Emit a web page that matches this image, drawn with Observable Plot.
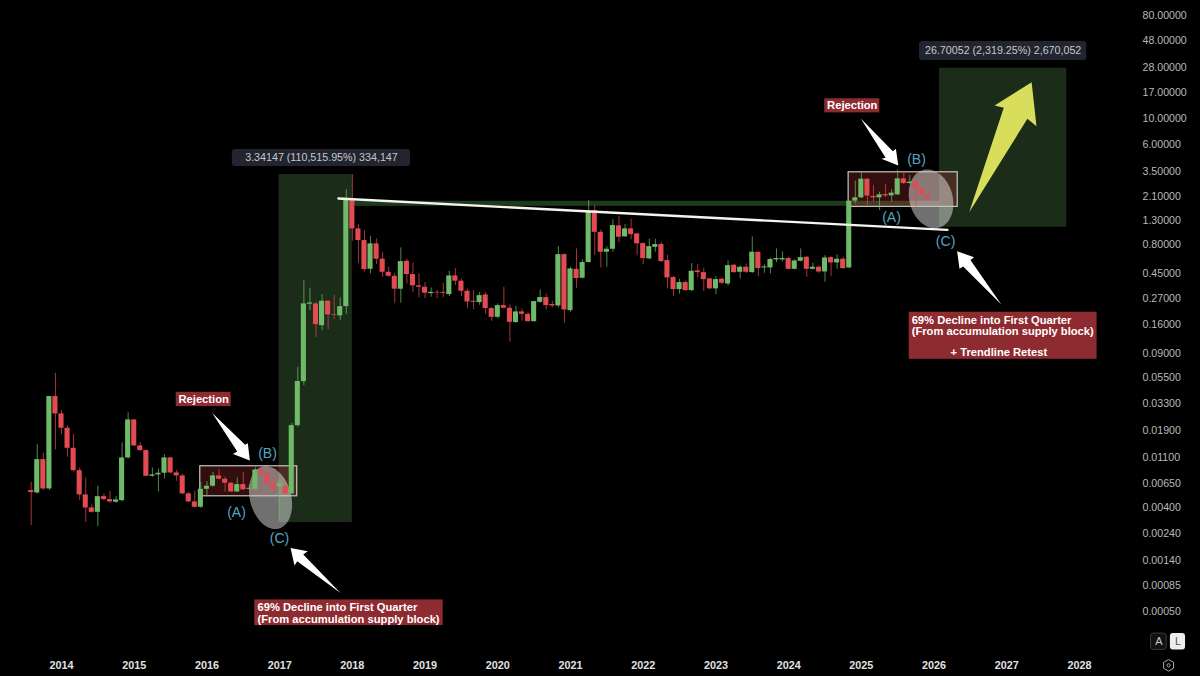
<!DOCTYPE html>
<html><head><meta charset="utf-8">
<script src="https://cdn.jsdelivr.net/npm/d3@7"></script>
<script src="https://cdn.jsdelivr.net/npm/@observablehq/plot@0.6"></script>
<style>html,body{margin:0;padding:0;background:#000}svg{display:block}</style>
</head><body><div id="chart"></div>
<script>
// Months are counted from January 2014; prices are stored as log10 of the price.
const firstMonth = -5;
const openLog10 = [-2.245,-2.266,-1.975,-2.231,-1.424,
-1.576,-1.701,-1.876,-2.071,-2.283,-2.397,-2.435,-2.298,-2.324,-2.347,-2.333,-1.960,
-1.628,-1.855,-1.896,-2.120,-2.108,-2.094,-1.960,-2.091,-2.117,-2.274,-2.344,-2.391,
-2.234,-2.207,-2.117,-2.146,-2.181,-2.257,-2.193,-2.234,-2.234,-2.065,-2.100,-2.181,
-2.210,-2.210,-2.274,-1.678,-1.294,-0.618,-0.615,-0.805,-0.592,-0.709,-0.720,-0.639,
0.293,0.040,-0.062,-0.313,-0.091,-0.225,-0.339,-0.374,-0.487,-0.243,-0.359,-0.458,
-0.470,-0.525,-0.514,-0.514,-0.534,-0.371,-0.417,-0.505,-0.592,-0.604,-0.537,-0.656,
-0.732,-0.630,-0.653,-0.778,-0.685,-0.706,-0.770,-0.601,-0.560,-0.621,-0.633,-0.185,
-0.674,-0.313,-0.391,-0.254,0.200,0.010,-0.164,-0.138,0.066,-0.030,0.040,-0.004,
-0.089,-0.222,-0.121,-0.097,-0.237,-0.385,-0.490,-0.429,-0.499,-0.327,-0.342,-0.397,
-0.484,-0.400,-0.441,-0.278,-0.339,-0.295,-0.342,-0.164,-0.301,-0.301,-0.231,-0.231,
-0.219,-0.313,-0.243,-0.208,-0.313,-0.295,-0.336,-0.211,-0.257,-0.225,-0.301,0.282,
0.311,0.474,0.323,0.311,0.340,0.328,0.337,0.477,0.436,0.448,0.390,0.331];
const closeLog10 = [-2.263,-1.975,-2.231,-1.424,-1.576,
-1.701,-1.876,-2.071,-2.283,-2.397,-2.435,-2.298,-2.324,-2.344,-2.327,-1.960,-1.628,
-1.855,-1.896,-2.120,-2.108,-2.094,-1.960,-2.091,-2.117,-2.274,-2.344,-2.391,-2.234,
-2.207,-2.117,-2.146,-2.181,-2.257,-2.193,-2.239,-2.225,-2.065,-2.100,-2.181,-2.234,
-2.181,-2.274,-1.678,-1.293,-0.615,-0.607,-0.796,-0.592,-0.711,-0.714,-0.639,0.293,
0.040,-0.062,-0.316,-0.091,-0.225,-0.339,-0.374,-0.487,-0.246,-0.359,-0.458,-0.470,
-0.522,-0.514,-0.519,-0.522,-0.371,-0.417,-0.505,-0.598,-0.601,-0.543,-0.656,-0.732,
-0.630,-0.653,-0.776,-0.685,-0.706,-0.770,-0.595,-0.560,-0.630,-0.633,-0.185,-0.668,
-0.310,-0.394,-0.254,0.194,0.010,-0.164,-0.138,0.069,-0.033,0.040,-0.010,-0.091,
-0.219,-0.115,-0.097,-0.246,-0.388,-0.490,-0.429,-0.499,-0.330,-0.342,-0.403,-0.484,
-0.403,-0.435,-0.281,-0.342,-0.295,-0.339,-0.164,-0.307,-0.292,-0.228,-0.219,-0.219,
-0.313,-0.240,-0.211,-0.313,-0.295,-0.336,-0.214,-0.257,-0.225,-0.307,0.281,0.311,
0.474,0.326,0.311,0.337,0.328,0.352,0.477,0.436,0.448,0.392,0.337,0.296];
const highLog10 = [-2.173,-1.844,-1.919,-1.424,-1.221,
-1.547,-1.678,-1.756,-2.047,-2.135,-2.362,-2.207,-2.274,-2.251,-2.298,-1.829,-1.567,
-1.628,-1.826,-1.890,-2.047,-2.056,-1.934,-1.954,-2.071,-2.100,-2.260,-2.251,-2.173,
-2.167,-2.085,-2.059,-2.129,-2.175,-2.135,-2.088,-2.193,-2.047,-2.047,-2.088,-2.129,
-2.158,-2.193,-1.657,-1.168,-0.412,-0.479,-0.601,-0.534,-0.586,-0.540,-0.563,0.383,
0.514,0.077,0.025,-0.027,-0.048,-0.164,-0.295,-0.348,-0.126,-0.225,-0.260,-0.353,
-0.429,-0.476,-0.499,-0.435,-0.330,-0.307,-0.397,-0.487,-0.499,-0.514,-0.516,-0.645,
-0.615,-0.470,-0.624,-0.639,-0.659,-0.694,-0.592,-0.493,-0.528,-0.592,-0.115,-0.179,
-0.295,-0.135,-0.231,0.287,0.243,0.031,-0.115,0.121,0.147,0.077,0.124,0.002,
-0.080,-0.048,-0.051,-0.077,-0.190,-0.377,-0.400,-0.417,-0.263,-0.272,-0.301,-0.394,
-0.377,-0.388,-0.240,-0.272,-0.284,-0.266,-0.030,-0.164,-0.272,-0.217,-0.135,-0.161,
-0.208,-0.228,-0.135,-0.202,-0.257,-0.281,-0.193,-0.202,-0.185,-0.208,0.281,0.457,
0.535,0.474,0.419,0.360,0.427,0.381,0.555,0.535,0.506,0.468,0.398,0.340];
const lowLog10 = [-2.551,-2.274,-2.245,-2.245,-1.890,
-1.756,-1.954,-2.085,-2.333,-2.522,-2.443,-2.560,-2.333,-2.356,-2.356,-2.344,-1.969,
-1.861,-1.902,-2.123,-2.129,-2.257,-2.143,-2.100,-2.164,-2.280,-2.350,-2.397,-2.400,
-2.298,-2.216,-2.152,-2.260,-2.263,-2.263,-2.245,-2.245,-2.245,-2.106,-2.193,-2.245,
-2.507,-2.280,-2.280,-1.692,-1.329,-0.674,-0.907,-0.848,-0.840,-0.752,-0.761,-0.709,
-0.068,-0.260,-0.336,-0.353,-0.272,-0.383,-0.383,-0.615,-0.610,-0.441,-0.516,-0.563,
-0.569,-0.557,-0.569,-0.563,-0.551,-0.455,-0.551,-0.656,-0.668,-0.627,-0.709,-0.767,
-0.746,-0.659,-0.950,-0.784,-0.767,-0.776,-0.776,-0.610,-0.668,-0.650,-0.650,-0.784,
-0.688,-0.479,-0.397,-0.260,-0.193,-0.301,-0.295,-0.164,-0.080,-0.033,-0.056,-0.196,
-0.272,-0.231,-0.164,-0.252,-0.484,-0.551,-0.531,-0.505,-0.508,-0.388,-0.508,-0.490,
-0.534,-0.447,-0.461,-0.348,-0.397,-0.348,-0.348,-0.377,-0.348,-0.353,-0.254,-0.249,
-0.318,-0.318,-0.249,-0.383,-0.318,-0.348,-0.426,-0.377,-0.313,-0.313,-0.307,0.259,
0.302,0.244,0.273,0.200,0.311,0.273,0.331,0.427,0.427,0.200,0.293,0.291];

const yearLabels = [2014,2015,2016,2017,2018,2019,2020,2021,2022,2023,2024,2025,2026,2027,2028];
const priceTicks = [80,48,28,17,10,6,3.5,2.1,1.3,0.8,0.45,0.27,0.16,0.09,0.055,0.033,0.019,0.011,0.0065,0.004,0.0024,0.0014,0.00085,0.0005];
const priceLabelMonth = 178.4;

const price = v => 10 ** v;
const yearMonth = y => (y - 2014) * 12;

// Shapes drawn on the chart, in [months, log10 price] terms.
const gainZones = [[35.9,48.0,0.514,-2.525],[144.9,165.9,1.443,0.054]];
const supplyBand = [[48.0,145.0,0.281,0.237]];
const accumulationBoxes = [[22.9,38.9,-2.033,-2.295],[129.9,147.9,0.534,0.232]];
const trendline = [[45.7,0.305],[146.2,0.031]];
const declineEllipses = [
  {c:[34.5,-2.307],u:[-1.32,0.271],v:[3.3,0.044]},
  {c:[143.5,0.302],u:[-1.24,0.253],v:[3.47,0.044]}];
const whiteArrows = [
  [[24.87,-1.567],[30.3,-1.844],[30.75,-1.832],[31.08,-1.983],[28.3,-1.925],[29.0,-1.905]],
  [[131.9,1.003],[137.2,0.718],[137.7,0.739],[138.1,0.593],[135.3,0.652],[136.0,0.660]],
  [[37.8,-2.746],[40.64,-2.776],[39.9,-2.804],[46.04,-3.139],[38.9,-2.863],[38.45,-2.900]],
  [[147.8,-0.155],[150.6,-0.208],[150.0,-0.231],[155.1,-0.621],[148.8,-0.289],[148.2,-0.309]]];
const yellowArrow = [[149.8,0.185],[155.5,1.097],[154.0,1.117],[160.1,1.321],[160.9,0.936],[159.4,1.001]];
const redLabelBoxes = [[18.93,28.0,-1.387,-1.512],[125.96,135.04,1.176,1.053],[31.9,62.99,-3.200,-3.424],[139.9,170.9,-0.688,-1.099]];
const centeredRedText = [[23.46,-1.449,"Rejection"],[130.5,1.114,"Rejection"],[154.7,-1.043,"+ Trendline Retest"]];
const leftRedText = [
  [32.34,-3.267,"69% Decline into First Quarter"],[32.34,-3.366,"(From accumulation supply block)"],
  [140.3,-0.755,"69% Decline into First Quarter"],[140.3,-0.854,"(From accumulation supply block)"]];
const measureBoxes = [[28.2,57.6,0.733,0.584],[141.6,169.2,1.676,1.510]];
const measureText = [[42.9,0.659,"3.34147 (110,515.95%) 334,147"],[155.4,1.593,"26.70052 (2,319.25%) 2,670,052"]];
const waveLabels = [[28.88,-2.438,"(A)"],[34.0,-1.922,"(B)"],[35.98,-2.665,"(C)"],[136.97,0.139,"(A)"],[141.1,0.645,"(B)"],[145.9,-0.071,"(C)"]];
const scaleButtonA = [[179.8,182.4,-3.494,-3.637]];
const scaleButtonL = [[183.0,185.5,-3.494,-3.637]];
const scaleButtonText = [[181.1,-3.566,"A","#c9c9c9"],[184.25,-3.566,"L","#555555"]];
const settingsIcon = [[182.7,-3.771]];

const candles = openLog10.map((o,i)=>({
  m: firstMonth + i, open: price(o), close: price(closeLog10[i]),
  high: price(highLog10[i]), low: price(lowLog10[i]), up: closeLog10[i] >= o
}));
const priceLabels = priceTicks.map(p=>({m:priceLabelMonth,p,label:p.toFixed(5)}));
const yearTicks = yearLabels.map(y=>({m:yearMonth(y),label:String(y)}));
const yearLabelPrice = 10 ** -3.771;
const GREEN = "#6fba68", RED = "#e34a52";
const ellipsePts = e => d3.range(0,73).map(k=>{
  const t = k/72*2*Math.PI;
  return [e.c[0]+e.u[0]*Math.cos(t)+e.v[0]*Math.sin(t), e.c[1]+e.u[1]*Math.cos(t)+e.v[1]*Math.sin(t)];
});
const poly = (pts,fill,extra={}) => Plot.line(pts,{x:d=>d[0],y:d=>price(d[1]),fill,stroke:"none",curve:"linear-closed",...extra});
const boxes = (rows,opts) => Plot.rect(rows,{x1:d=>d[0],x2:d=>d[1],y1:d=>price(d[2]),y2:d=>price(d[3]),...opts});
const texts = (rows,opts) => Plot.text(rows,{x:d=>d[0],y:d=>price(d[1]),text:d=>d[2],...opts});
const FONT = "Liberation Sans, Arial, sans-serif";

const chart = Plot.plot({
  width:1200, height:676, marginLeft:0, marginRight:0, marginTop:0, marginBottom:0,
  style:{background:"#000",color:"#b4b4b4",fontFamily:FONT},
  x:{type:"linear",domain:[0,168],range:[61,1079],axis:null},
  y:{type:"log",domain:[80,0.0005],range:[15,611],axis:null},
  marks:[
    boxes(gainZones,{fill:"#1b2c19"}),
    boxes(supplyBand,{fill:"#1e3a1c"}),
    boxes(accumulationBoxes,{fill:"#d23c3c",fillOpacity:0.24}),
    ...declineEllipses.map(e=>poly(ellipsePts(e),"#ffffff",{fillOpacity:0.44})),
    boxes(accumulationBoxes,{fill:"none",stroke:"#c9c6bf",strokeWidth:1.2}),
    Plot.ruleX(candles,{x:"m",y1:"low",y2:"high",stroke:d=>d.up?GREEN:RED,strokeWidth:1,strokeOpacity:0.72}),
    Plot.rect(candles,{x1:d=>d.m-0.42,x2:d=>d.m+0.42,y1:"open",y2:"close",fill:d=>d.up?GREEN:RED}),
    Plot.line(trendline,{x:d=>d[0],y:d=>price(d[1]),stroke:"#f5f5ee",strokeWidth:2.4,curve:"linear"}),
    ...whiteArrows.map(a=>poly(a,"#ffffff")),
    poly(yellowArrow,"#d8de5c"),
    boxes(redLabelBoxes,{fill:"#8e2b30"}),
    texts(centeredRedText,{fill:"#fff",fontWeight:700,fontSize:11.2,textAnchor:"middle",fontFamily:FONT}),
    texts(leftRedText,{fill:"#fff",fontWeight:700,fontSize:11.2,textAnchor:"start",fontFamily:FONT}),
    boxes(measureBoxes,{fill:"#22252f",rx:3}),
    texts(measureText,{fill:"#c6c7cc",fontSize:10.7,textAnchor:"middle",fontFamily:FONT}),
    texts(waveLabels,{fill:"#56a5c4",fontSize:14,textAnchor:"middle",fontFamily:FONT}),
    boxes(scaleButtonA,{fill:"#111",stroke:"#3a3a3a",rx:3}),
    boxes(scaleButtonL,{fill:"#eeeeee",rx:3}),
    texts(scaleButtonText,{fill:d=>d[3],fontSize:11,textAnchor:"middle",fontFamily:FONT}),
    Plot.dot(settingsIcon,{x:d=>d[0],y:d=>price(d[1]),symbol:"hexagon",r:5,fill:"none",stroke:"#a8a8a8",strokeWidth:1}),
    Plot.dot(settingsIcon,{x:d=>d[0],y:d=>price(d[1]),r:1.6,fill:"none",stroke:"#a8a8a8",strokeWidth:1}),
    Plot.text(priceLabels,{x:"m",y:"p",text:"label",textAnchor:"start",fontSize:10.6,fill:"#b9b9b9",fontFamily:FONT}),
    Plot.text(yearTicks,{x:"m",y:()=>yearLabelPrice,text:"label",textAnchor:"middle",fontSize:10.8,fontWeight:700,fill:"#e2e2e2",fontFamily:FONT})
  ]
});
document.getElementById("chart").append(chart);
</script></body></html>
